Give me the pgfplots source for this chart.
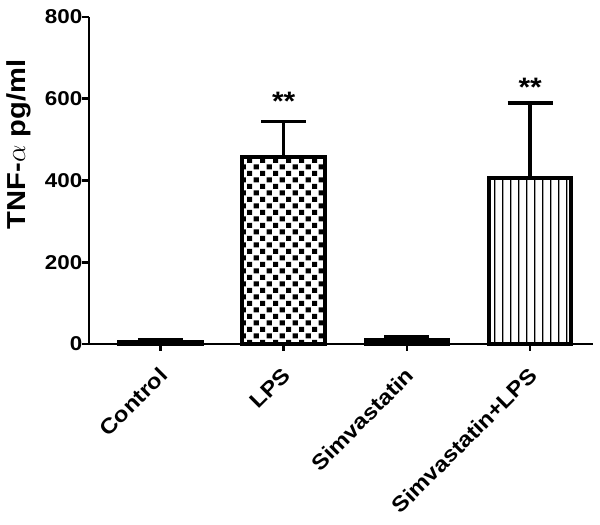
\documentclass[border=0pt]{standalone}
\usepackage{pgfplots}
\pgfplotsset{compat=1.18}
\usepackage{fontspec}
\setmainfont{Liberation Sans}[FakeStretch=1.12]
\usetikzlibrary{patterns.meta}

\tikzdeclarepattern{
  name=mychecker,
  type=uncolored,
  bottom left={(0pt,0pt)},
  top right={(10pt,10pt)},
  tile size={(10pt,10pt)},
  code={
    \fill (0.5pt,0.5pt) rectangle (4.5pt,4.5pt);
    \fill (5.5pt,5.5pt) rectangle (9.5pt,9.5pt);
  }
}
\tikzdeclarepattern{
  name=myvlines,
  type=uncolored,
  bottom left={(0pt,0pt)},
  top right={(6.25pt,10pt)},
  tile size={(6.25pt,10pt)},
  code={
    \fill (2.6pt,-0.5pt) rectangle (3.6pt,10.5pt);
  }
}

\begin{document}
\begin{tikzpicture}
\useasboundingbox (-66.75pt,-135.75pt) rectangle (383.25pt,258pt);
\begin{axis}[
  at={(0,0)}, anchor=south west,
  scale only axis, width=378pt, height=245.25pt,
  xmin=-0.58, xmax=3.51, ymin=0, ymax=800,
  axis lines=left,
  axis line style={-, line width=2pt},
  ytick={0,200,400,600,800},
  xtick={0,1,2,3},
  xticklabels={Control,LPS,Simvastatin,Simvastatin+LPS},
  tick align=outside,
  major tick length=5pt,
  tick style={line width=2pt, black},
  /pgf/number format/assume math mode=true,
  yticklabel style={font=\bfseries\fontsize{15}{17}\selectfont, xshift=3.5pt},
  xticklabel style={font=\bfseries\fontsize{16}{18}\selectfont, yshift=-10pt, xshift=-2pt, rotate=45, anchor=north east, inner sep=1pt},
  every axis y label/.style={at={(axis description cs:-0.14,0.61)}, rotate=90, anchor=center, font=\bfseries\fontsize{19.5}{22}\selectfont},
  ylabel={TNF-$\alpha$ pg/ml},
  clip=false,
]
\addplot[ybar, bar width=62pt, bar shift=0pt, draw=black, fill=white, line width=3pt,
  error bars/.cd, y dir=plus, y explicit,
  error bar style={line width=2.5pt},
  error mark options={mark size=16.9pt, line width=2.5pt, rotate=90}]
  coordinates {(0,5) +- (0,5)};
\addplot[ybar, bar width=62pt, bar shift=0pt, draw=black, pattern=mychecker, pattern color=black, line width=3pt,
  error bars/.cd, y dir=plus, y explicit,
  error bar style={line width=2.5pt},
  error mark options={mark size=16.9pt, line width=2.5pt, rotate=90}]
  coordinates {(1,457) +- (0,88)};
\addplot[ybar, bar width=62pt, bar shift=0pt, draw=black, fill=white, line width=3pt,
  error bars/.cd, y dir=plus, y explicit,
  error bar style={line width=2.5pt},
  error mark options={mark size=16.9pt, line width=2.5pt, rotate=90}]
  coordinates {(2,10) +- (0,8)};
\addplot[ybar, bar width=62pt, bar shift=0pt, draw=black, pattern=myvlines, pattern color=black, line width=3pt,
  error bars/.cd, y dir=plus, y explicit,
  error bar style={line width=2.5pt},
  error mark options={mark size=16.9pt, line width=2.5pt, rotate=90}]
  coordinates {(3,406) +- (0,184)};
\node[anchor=base, font=\bfseries\fontsize{20}{22}\selectfont] at (axis cs:1,572) {**};
\node[anchor=base, font=\bfseries\fontsize{20}{22}\selectfont] at (axis cs:3,605) {**};
\end{axis}
\end{tikzpicture}
\end{document}
